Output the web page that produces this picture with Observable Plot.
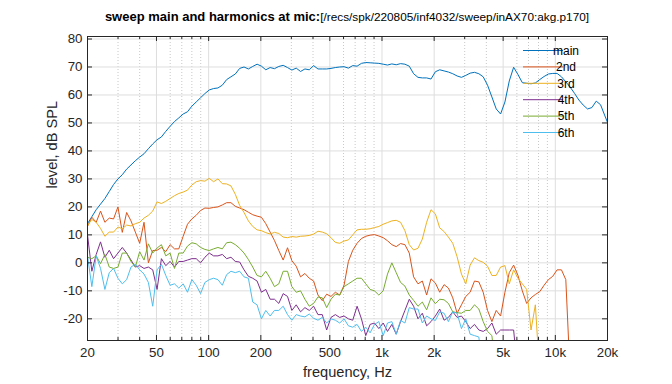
<!DOCTYPE html>
<html><head><meta charset="utf-8">
<script src="https://cdn.jsdelivr.net/npm/d3@7"></script>
<script src="https://cdn.jsdelivr.net/npm/@observablehq/plot@0.6"></script>
<style>
body{margin:0;background:#fff;font-family:"Liberation Sans",Arial,Helvetica,sans-serif;}
#wrap{position:relative;width:672px;height:384px;}
#title{position:absolute;top:8px;left:87px;width:520px;text-align:center;white-space:nowrap;color:#000;line-height:16px;}
#title b{font-size:13px;}
#title span{font-size:11.8px;}
</style></head>
<body><div id="wrap"><div id="title"><b>sweep main and harmonics at mic:</b><span>[/recs/spk/220805/inf4032/sweep/inAX70:akg.p170]</span></div></div>
<script>
const freqs = [20,21.19,22.45,23.78,25.2,26.7,28.28,29.97,31.75,33.64,
35.64,37.76,40,42.38,44.9,47.57,50.4,53.39,56.57,59.93,
63.5,67.27,71.27,75.51,80,84.76,89.8,95.14,100.8,106.8,
113.1,119.9,127,134.5,142.5,151,160,169.5,179.6,190.3,
201.6,213.6,226.3,239.7,254,269.1,285.1,302,320,339,
359.2,380.6,403.2,427.2,452.5,479.5,508,538.2,570.2,604.1,
640,678,718.4,761.1,806.3,854.3,905.1,958.9,1016,1076,
1140,1208,1280,1356,1437,1522,1613,1709,1810,1918,
2032,2153,2281,2416,2560,2712,2874,3044,3225,3417,
3620,3836,4064,4305,4561,4833,5120,5424,5747,6089,
6451,6834,7241,7671,8128,8611,9123,9665,10240,10849,
11494,12177,12902,13669,14482,15343,16255,17222,18246,19330,
20000];

const seriesNames = ["main","2nd","3rd","4th","5th","6th"];
const seriesColors = ["#0072BD","#D95319","#EDB120","#7E2F8E","#77AC30","#4DBEEE"];

const mainLevel = [14,16.5,19,21,23,25.5,28,30,31.5,33.5,
35,36.5,37.8,39,40.8,42.5,44,45,47,48.8,
50.5,51.8,53.2,54,56,57.5,59,60.5,61.8,62.3,
62.5,63.5,65.5,66.5,67.5,69.5,70,69.3,70.2,71,
70.3,69,69.8,69.4,70.2,70.6,69.8,68.9,69.6,68.4,
69.3,69,70.5,69.3,69.3,69.3,69.5,69.8,70,70.1,
69.6,70.5,70.3,71.3,71.6,71.5,71.4,71.3,71,70.7,
71.1,70.8,71.2,71,70.3,67.6,66.3,66.1,66.1,65.7,
68.3,69,68.6,68.2,67.6,66.8,66.3,67,67.8,68.1,
67.6,66.5,63.5,59.3,55,53.2,57.5,65,69.9,67.3,
64.4,64.2,64,64.3,65.5,66.6,67.5,67.7,67.7,66.5,
64.7,62.8,60.6,58.2,56.4,55,55.5,57.8,56.5,52.5,
50.2];

const h2Level = [13,16.3,14.5,18.5,14.5,16,15.7,20,10.9,18,
15,11,7,14.5,0,4.4,4.5,5.5,4,6.5,
5,5,9.5,13.8,15.7,17,18.7,19.6,19.5,19.8,
20,20.7,21.5,21.5,20.2,19.6,19,18.1,17.2,16.7,
16.3,14,11,8,4.4,1,5.4,0.8,-1.2,-5,
-3.8,-5.5,-6.5,-11.5,-13.5,-11.2,-12,-10.5,-11.5,-8,
0.5,4.5,7,8.7,9.5,9.9,10.1,9.6,9,7.9,
6.5,5.8,6.9,6.5,3.5,-5,-7.5,-6.5,-11.5,-5.7,
-7.2,-10.5,-7.8,-9,-12.5,-18,-15,-12,-10.5,-6.5,
-6.8,-10.5,-17,-21,-17,-19,-10.5,-3.5,-0.8,-4.5,
-10,-14.5,-12.5,-11.3,-10.3,-8,-6,-4.8,-2.5,-2.5,
-6,-40];

const h3Level = [13.3,15.5,14.5,12.3,9.5,11,11,12.8,12.2,13.5,
13.2,14,14.5,16,17,18.5,21.8,21.2,22,23,
24,24.8,25.3,26,27.8,29,29.4,29.2,30.2,29,
30,28.3,28.2,27.5,24.5,20.5,18,15,13,11.8,
11.5,10.8,10.3,10.9,10.5,9.2,9,9.4,9.2,9.5,
9.6,9.8,10.3,11.3,11,10.4,9,7.3,7,7.8,
8.2,10,11.8,12,12,12.2,12.6,13,13.8,14.4,
15,15.2,14.5,11.5,6.5,4.6,5.2,8.5,14.5,19,
17.5,12.5,11.2,9.2,7,2.2,-4,-7.5,-0.8,1.8,
0.8,0.2,-1.2,-4.5,-4.5,-1.5,-1,-7.5,-2.5,-5.5,
-7.5,-9.5,-24,-15,-40];

const h4Level = [10,-3,3,7.5,2,4.5,1.5,3.5,5.5,3.5,
1,-1.5,-1,-2,-1.5,-2.5,-9.5,1.5,-1,0.5,
-1.5,0.5,0.5,1,1.5,1.5,0,2,3.5,2.5,
2.5,3,1.5,2,0.5,0.3,-2.5,-4.8,-5.5,-6.5,
-10.5,-9.5,-13,-13,-14.5,-11,-12,-17,-15,-17.5,
-16,-17,-15.5,-18.5,-18.5,-24,-19.5,-18.5,-19.5,-19,
-20,-20.5,-15.5,-20,-26,-22,-21.5,-23.5,-21.5,-24.5,
-22,-25.5,-21,-17,-13,-15.5,-20,-18,-22.5,-21,
-19,-16.5,-20.5,-19.5,-17.5,-19.5,-19,-21,-23.5,-22,
-24,-24.5,-23.5,-21.5,-25.5,-24,-24,-24,-24,-40];

const h5Level = [2,1.5,2.5,-0.3,3,-1.5,-2,-1.5,3.5,3.5,
0.5,-1.5,4,1,6.8,3.5,5.3,6.5,2.5,3.5,
-2,3.5,3.5,6,7.2,6.8,5.5,4.8,4.4,5,
5.5,5,7.2,7.4,6.5,5.2,3.5,1.2,-1.5,-4.5,
-5,-3,-5.5,-8.5,-7.5,-3,-3,-8.5,-10.5,-10,
-13,-15.5,-14.5,-12.2,-12.5,-16,-13,-11.2,-11.5,-8.5,
-7.5,-6.5,-5.5,-5.5,-7.5,-9.5,-10,-11.5,-10,-4,
0,-3.5,-7,-8.3,-11.5,-13.4,-15.5,-14,-16.8,-12.5,
-14.6,-13,-13.2,-14.5,-17.5,-17.8,-18,-17,-17,-15,
-16.5,-21,-24.5,-26,-40];

const h6Level = [2.5,-8.5,2.5,-2,-9.5,-3.5,-2,-5.5,-7.5,-6,
-1.5,-0.5,-2.5,-4,-7,-15.5,-2.5,-0.5,-4.5,-8,
-7.5,-9,-7.5,-10.5,-6,-8,-11,-7,-6,-5.5,
-6,-8,-4.2,-3,-3.5,-3,-5,-5.5,-14,-15,
-20,-17,-19,-17,-17,-15.5,-18.5,-20.5,-18.5,-19,
-19.3,-18.3,-19.8,-20.5,-19.5,-21.5,-20,-20.5,-21.5,-20,
-22.5,-23,-22,-24.5,-23,-25,-22,-21,-26,-21.5,
-21,-25.5,-20.6,-21.5,-16,-16.5,-16.5,-21.5,-19,-20,
-20.6,-17.5,-18,-21,-17.5,-18,-23.5,-20,-25.5,-26,
-26.5,-40];

const xMajor = [20,50,100,200,500,1000,2000,5000,10000,20000];
const xLabels = ["20","50","100","200","500","1k","2k","5k","10k","20k"];
const xMinor = [30,40,60,70,80,90,300,400,600,700,800,900,3000,4000,6000,7000,8000,9000];
const yTicks = [-20,-10,0,10,20,30,40,50,60,70,80];
const yDomain = [-27.75, 80.9];

const seriesValues = [mainLevel,h2Level,h3Level,h4Level,h5Level,h6Level];
const rows = [];
seriesNames.forEach((name, s) => {
  seriesValues[s].forEach((v, i) => { if (v != null) rows.push({f: freqs[i], db: v, series: name}); });
});

const W = 672, H = 384, mL = 87, mR = 65, mT = 36, mB = 44;
const innerW = W - mL - mR, innerH = H - mT - mB;
const axisColor = "#262626";

const chart = Plot.plot({
  width: W, height: H,
  marginLeft: mL, marginRight: mR, marginTop: mT, marginBottom: mB,
  style: {fontFamily: "'Liberation Sans', Arial, Helvetica, sans-serif", fontSize: "13.3px", color: axisColor, background: "white"},
  x: {type: "log", domain: [20, 20000], axis: null},
  y: {domain: yDomain, axis: null},
  color: {domain: seriesNames, range: seriesColors},
  marks: [
    Plot.ruleX(xMinor, {x: d => d, stroke: "#c8c8c8", strokeDasharray: "1,2"}),
    Plot.ruleX(xMajor, {x: d => d, stroke: "#dedede"}),
    Plot.ruleY(yTicks, {y: d => d, stroke: "#dedede"}),
    Plot.line(rows, {x: "f", y: "db", z: "series", stroke: "series", strokeWidth: 1, clip: true}),
    Plot.frame({stroke: axisColor}),
    Plot.tickX(xMajor, {x: d => d, insetBottom: innerH - 5, stroke: axisColor}),
    Plot.tickX(xMajor, {x: d => d, insetTop: innerH - 5, stroke: axisColor}),
    Plot.tickX(xMinor, {x: d => d, insetBottom: innerH - 3, stroke: axisColor}),
    Plot.tickX(xMinor, {x: d => d, insetTop: innerH - 3, stroke: axisColor}),
    Plot.tickY(yTicks, {y: d => d, insetRight: innerW - 5, stroke: axisColor}),
    Plot.tickY(yTicks, {y: d => d, insetLeft: innerW - 5, stroke: axisColor}),
    Plot.text(xMajor, {x: d => d, text: (d, i) => xLabels[i], frameAnchor: "bottom", dy: 16, fill: axisColor, fontSize: 13.3}),
    Plot.text(yTicks, {y: d => d, text: d => String(d), frameAnchor: "left", dx: -5, textAnchor: "end", fill: axisColor, fontSize: 13.3}),
    Plot.text(["frequency, Hz"], {frameAnchor: "bottom", dy: 36, fill: axisColor, fontSize: 14.6}),
    Plot.text(["level, dB SPL"], {frameAnchor: "left", dx: -35, rotate: -90, fill: axisColor, fontSize: 14.6})
  ]
});

const svg = d3.select(chart);
const lg = svg.append("g").attr("font-size", 12).attr("font-family", "'Liberation Sans', Arial, sans-serif");
seriesNames.forEach((n, i) => {
  const y = 50.5 + i * 16.4;
  lg.append("line").attr("x1", 523).attr("x2", 563).attr("y1", y).attr("y2", y).attr("stroke", seriesColors[i]).attr("stroke-width", 1);
  lg.append("text").attr("x", 566).attr("y", y).attr("dy", "0.35em").attr("fill", "#000").text(n);
});

const wrap = document.getElementById("wrap");
wrap.insertBefore(chart, wrap.firstChild);
chart.style.position = "absolute";
chart.style.left = "0";
chart.style.top = "0";
</script>
</body></html>
